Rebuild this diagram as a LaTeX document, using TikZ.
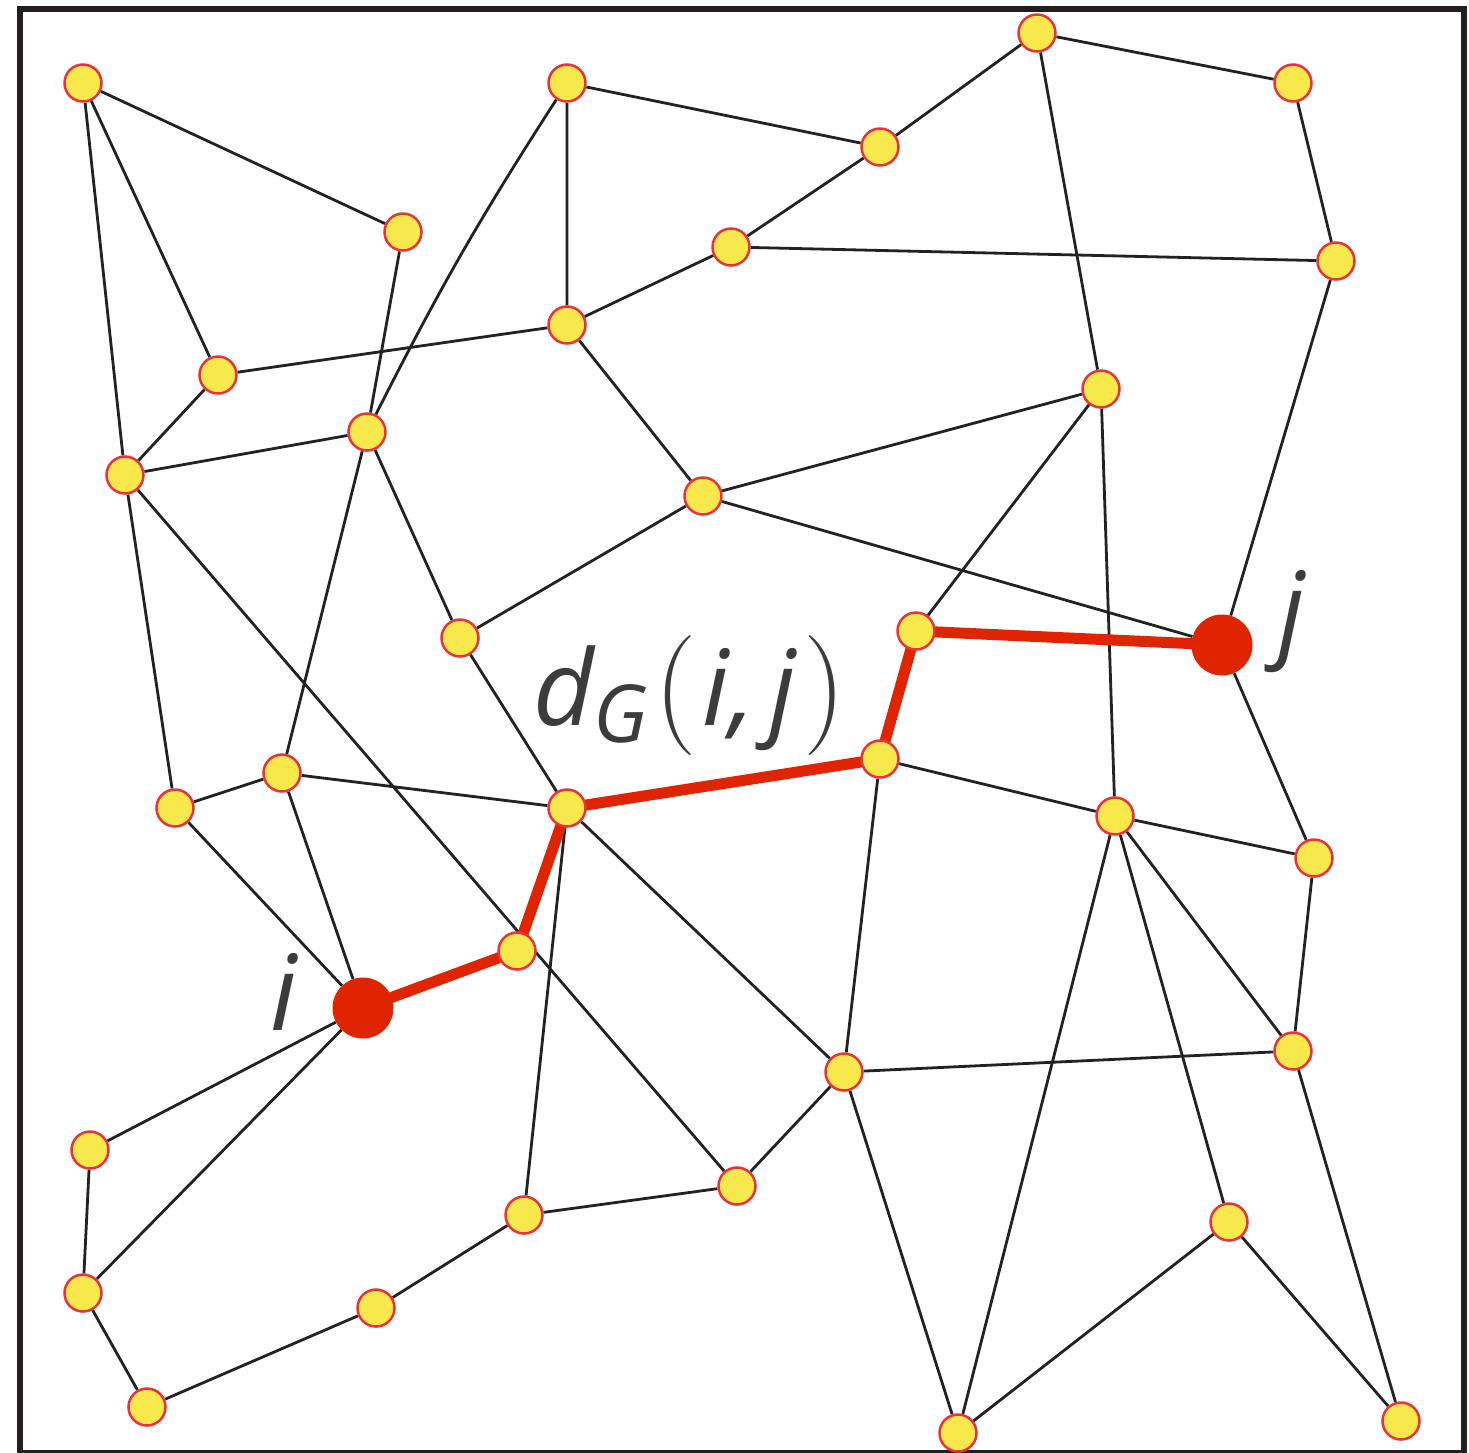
\documentclass[tikz,border=0pt]{standalone}
\usepackage{fontspec}
\newfontfamily\labfont{Open Sans}
\pgfdeclarelayer{bg}
\pgfsetlayers{bg,main}
\definecolor{nodey}{HTML}{F7E94B}
\definecolor{nodered}{HTML}{E8323C}
\definecolor{pathred}{HTML}{E02400}
\definecolor{txt}{HTML}{3C3C3C}
\definecolor{edgec}{HTML}{222222}
\definecolor{framec}{HTML}{231F20}
\tikzset{
 yn/.style={circle, fill=nodey, draw=nodered, line width=2.5pt, minimum size=37pt, inner sep=0pt},
 rn/.style={circle, fill=pathred, minimum size=61pt, inner sep=0pt},
 edg/.style={draw=edgec, line width=2.8pt},
 sp/.style={draw=pathred, line width=11pt, line join=round},
 lab/.style={text=txt, font=\labfont\itshape\fontsize{105}{110}\selectfont, inner sep=0pt}
}
\newcommand{\bigpar}[1]{{\rmfamily\upshape\fontsize{120}{120}\selectfont #1}}
\begin{document}
\begin{tikzpicture}[x=1pt,y=-1pt]
\useasboundingbox (0,0) rectangle (1469,1452);
\begin{scope}
\clip (0,0) rectangle (1469,1452);
\draw[framec, line width=6pt] (20,9) rectangle (1464,1453);
\end{scope}
% nodes
\node[yn] (A) at (83,83) {};
\node[yn] (B) at (567,83) {};
\node[yn] (C) at (1037,33) {};
\node[yn] (D) at (1293,83) {};
\node[yn] (E) at (880,147) {};
\node[yn] (F) at (403,232) {};
\node[yn] (G) at (731,247) {};
\node[yn] (H) at (1336,261) {};
\node[yn] (I) at (567,325) {};
\node[yn] (J) at (218,375) {};
\node[yn] (K) at (367,432) {};
\node[yn] (L) at (1101,389) {};
\node[yn] (M) at (125,475) {};
\node[yn] (N) at (703,496) {};
\node[yn] (O) at (460,638) {};
\node[yn] (P) at (916,631) {};
\node[rn] (j) at (1222,645) {};
\node[yn] (Q) at (880,759) {};
\node[yn] (R) at (282,773) {};
\node[yn] (S) at (175,808) {};
\node[yn] (T) at (567,808) {};
\node[yn] (U) at (1115,816) {};
\node[yn] (V) at (1314,858) {};
\node[yn] (W) at (517,951) {};
\node[rn] (i) at (363,1008) {};
\node[yn] (X) at (844,1072) {};
\node[yn] (Y) at (1293,1051) {};
\node[yn] (Z) at (90,1150) {};
\node[yn] (AA) at (737,1186) {};
\node[yn] (AB) at (524,1215) {};
\node[yn] (AC) at (1229,1222) {};
\node[yn] (AD) at (83,1293) {};
\node[yn] (AE) at (376,1308) {};
\node[yn] (AF) at (147,1407) {};
\node[yn] (AG) at (958,1433) {};
\node[yn] (AH) at (1401,1421) {};
% labels
\node[lab, anchor=base] (li) at (284,1030) {i};
\node[lab, anchor=base] (lj) at (1292,647) {j};
\node[lab, anchor=base west] (ld) at (533,725) {d\raisebox{-17pt}{\fontsize{80}{80}\selectfont G}\kern6pt\bigpar{(}\kern6pt i,\kern14pt j\kern8pt\bigpar{)}};
% edges
\begin{pgfonlayer}{bg}
\path[edg] (A)--(F) (A)--(J) (A)--(M) (F)--(K)
 (B)--(I) (B)--(E) (E)--(C) (E)--(G) (C)--(D) (C)--(L) (D)--(H)
 (G)--(H) (G)--(I) (I)--(J) (I)--(N) (J)--(M) (M)--(K) (M)--(S) (M)--(AA)
 (K)--(O) (K)--(R) (N)--(O) (N)--(L) (N)--(j) (L)--(P) (L)--(U) (H)--(j)
 (Q)--(U) (Q)--(X) (U)--(V) (U)--(AG) (U)--(AC) (U)--(Y) (j)--(V) (V)--(Y)
 (Y)--(X) (Y)--(AH) (AC)--(AG) (AC)--(AH) (X)--(AG) (X)--(AA) (T)--(X)
 (O)--(T) (R)--(T) (R)--(S) (R)--(i) (S)--(i) (T)--(AB) (AB)--(AA)
 (AB)--(AE) (AE)--(AF) (AF)--(AD) (AD)--(Z) (AD)--(i) (Z)--(i);
\path[edg] (B) to[bend right=3] (K);
\path[sp] (i.center)--(W.center)--(T.center)--(Q.center)--(P.center)--(j.center);
\end{pgfonlayer}
\end{tikzpicture}
\end{document}
